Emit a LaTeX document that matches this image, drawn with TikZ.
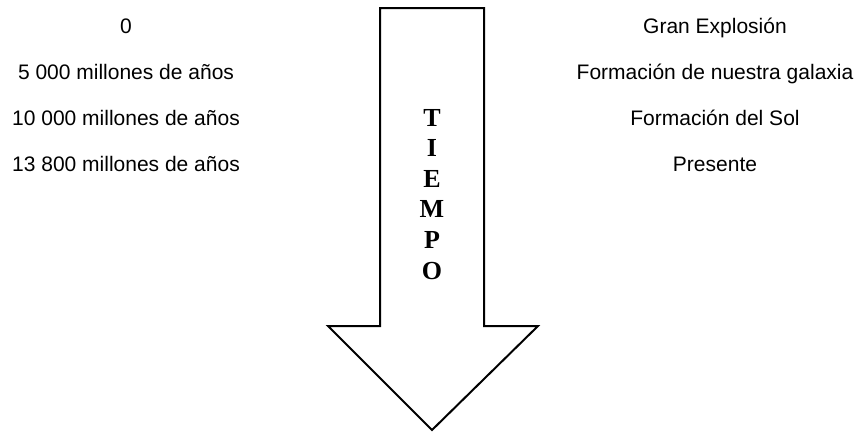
\documentclass[tikz,border=0pt]{standalone}
\usepackage{fontspec}
\setmainfont{Liberation Sans}
\newfontfamily\TimeFont{Liberation Serif}
\usetikzlibrary{positioning}

\begin{document}
\begin{tikzpicture}[
          % Environment Config
          x=1pt, y=-1pt,
          font=\fontsize{21}{25}\selectfont,
          RowText/.style={% Style for the ages and the events
            anchor=base,
            inner sep=0pt
          },
          TimeArrow/.style={% Style for the big arrow
            draw=black,
            line width=2pt,
            line join=miter
          },
          ArrowLetter/.style={% Style for the letters inside the arrow
            anchor=base,
            inner sep=0pt,
            font=\TimeFont\bfseries\fontsize{26}{30}\selectfont
          }
        ]

        \useasboundingbox (0,0) rectangle (858,431);

        % Big arrow
        \draw[TimeArrow]
        (380,8) coordinate (A1)
            -- (484,8)
            -- (484,326)
            -- (538,326)
            -- (432,430) coordinate (A-TIP)
            -- (328,326)
            -- (380,326)
            -- cycle;

        %===Letters===
        \foreach \letter [count=\i from 0] in {T,I,E,M,P,O}
            \node[ArrowLetter] (L\i) at (432,126+30.6*\i) {\letter};

        %===Ages===
        \node[RowText] (age0) at (126,33) {0};
        \node[RowText] (age1) at (126,79) {5 000 millones de años};
        \node[RowText] (age2) at (126,125) {10 000 millones de años};
        \node[RowText] (age3) at (126,171) {13 800 millones de años};

        %===Events===
        \node[RowText] (event0) at (715,33) {Gran Explosión};
        \node[RowText] (event1) at (715,79) {Formación de nuestra galaxia};
        \node[RowText] (event2) at (715,125) {Formación del Sol};
        \node[RowText] (event3) at (715,171) {Presente};

        \end{tikzpicture}
\end{document}
